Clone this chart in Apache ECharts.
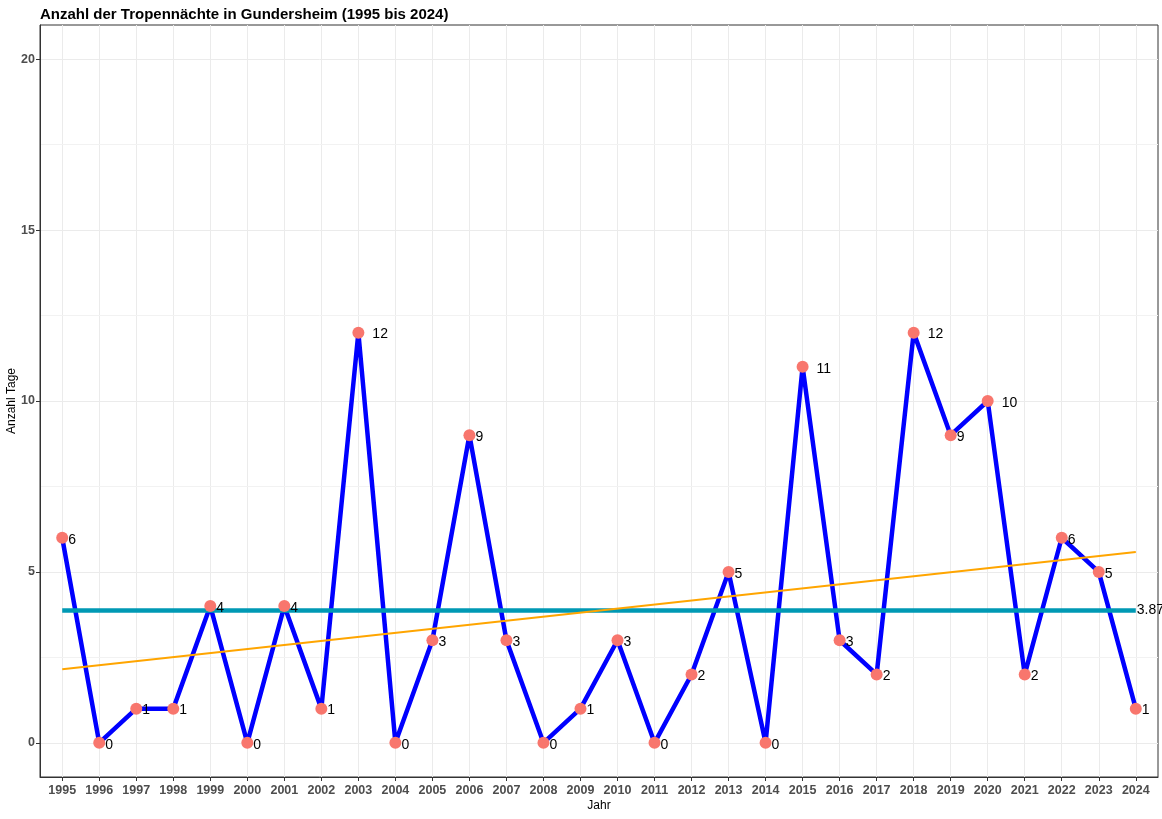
<!DOCTYPE html>
<html>
<head>
<meta charset="utf-8">
<script src="https://cdn.jsdelivr.net/npm/echarts@6/dist/echarts.min.js"></script>
<style>html,body{margin:0;padding:0;background:#fff}#c{width:1162px;height:819px}</style>
</head>
<body>
<div id="c"></div>
<script>
const years = [1995,1996,1997,1998,1999,2000,2001,2002,2003,2004,2005,2006,2007,2008,2009,2010,2011,2012,2013,2014,2015,2016,2017,2018,2019,2020,2021,2022,2023,2024];
const nights = [6,0,1,1,4,0,4,1,12,0,3,9,3,0,1,3,0,2,5,0,11,3,2,12,9,10,2,6,5,1];
const meanValue = 3.87;
const trendStart = 2.15;
const trendEnd = 5.58;
const yTicks = [0,5,10,15,20];
const yMinor = [2.5,7.5,12.5,17.5];
const titleText = 'Anzahl der Tropennächte in Gundersheim (1995 bis 2024)';

const F = '"Liberation Sans", Arial, sans-serif';
const chart = echarts.init(document.getElementById('c'), null, {renderer:'canvas'});
const first = years[0], last = years[years.length-1];

const pointData = years.map((y,i)=>({
  value:[y, nights[i]],
  label:{distance: String(nights[i]).length > 1 ? 8 : 0}
}));

chart.setOption({
  animation:false,
  backgroundColor:'#fff',
  title:{text:titleText,left:35,top:2,textStyle:{fontFamily:F,fontSize:15,fontWeight:'bold',color:'#000'}},
  grid:{left:40,right:4,top:25,bottom:42,show:true,borderColor:'#333',borderWidth:1,containLabel:false,outerBoundsMode:'none'},
  xAxis:{type:'value',min:first-0.6,max:last+0.6,
    name:'Jahr',nameLocation:'middle',nameGap:23,nameMoveOverlap:false,nameTextStyle:{fontFamily:F,fontSize:12,color:'#000'},
    axisLine:{show:true,onZero:false,lineStyle:{color:'#333',width:1}},
    axisTick:{show:true,length:4,customValues:years,lineStyle:{color:'#333'}},
    axisLabel:{customValues:years,fontFamily:F,fontSize:12.5,fontWeight:'bold',color:'#4d4d4d',margin:7,formatter:v=>String(v)},
    splitLine:{show:true,lineStyle:{color:'#ebebeb',width:1}}},
  yAxis:{type:'value',min:-1,max:21,
    name:'Anzahl Tage',nameLocation:'middle',nameGap:22,nameMoveOverlap:false,nameRotate:90,nameTextStyle:{fontFamily:F,fontSize:12,color:'#000'},
    axisLine:{show:true,onZero:false,lineStyle:{color:'#333',width:1}},
    axisTick:{show:true,length:4,customValues:yTicks,lineStyle:{color:'#333'}},
    axisLabel:{customValues:yTicks,fontFamily:F,fontSize:12.5,fontWeight:'bold',color:'#4d4d4d',margin:5},
    splitLine:{show:true,lineStyle:{color:'#ebebeb',width:1}}},
  series:[
    {type:'line',name:'grid',data:[],silent:true,z:0,
      markLine:{silent:true,symbol:'none',label:{show:false},animation:false,z:0,
        lineStyle:{color:'#f2f2f2',width:1,type:'solid'},
        data:yMinor.map(v=>({yAxis:v}))}},
    {type:'line',name:'Tropennächte',data:years.map((y,i)=>[y,nights[i]]),showSymbol:false,symbol:'none',
      lineStyle:{color:'#0000ff',width:4.5},z:2},
    {type:'line',name:'Mittelwert',data:[[first,meanValue],[last,meanValue]],showSymbol:false,symbol:'none',
      lineStyle:{color:'#0099b4',width:4.5},z:3,
      endLabel:{show:true,formatter:String(meanValue),fontFamily:F,fontSize:14,color:'#000',distance:1}},
    {type:'line',name:'Trend',data:[[first,trendStart],[last,trendEnd]],showSymbol:false,symbol:'none',
      lineStyle:{color:'#ffa500',width:2},z:3},
    {type:'scatter',name:'Punkte',data:pointData,symbolSize:12,itemStyle:{color:'#f8766d',opacity:1},z:4,
      label:{show:true,position:'right',formatter:p=>String(p.value[1]),fontFamily:F,fontSize:14,color:'#000',offset:[0,2]}}
  ]
});
</script>
</body>
</html>
